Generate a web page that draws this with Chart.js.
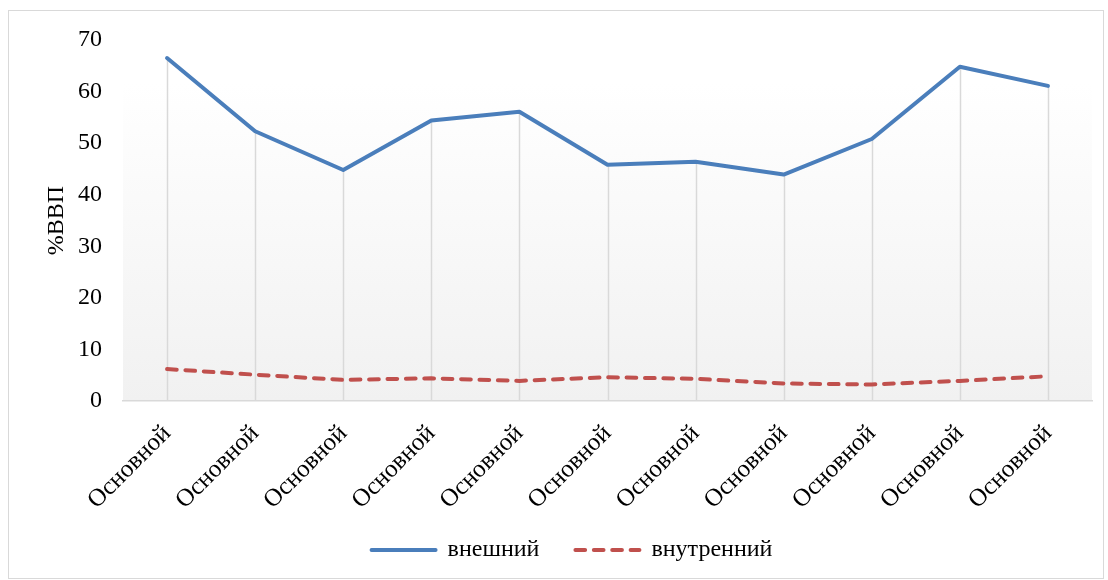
<!DOCTYPE html>
<html>
<head>
<meta charset="utf-8">
<script src="https://cdn.jsdelivr.net/npm/chart.js@4/dist/chart.umd.min.js"></script>
<style>
  html, body { margin: 0; padding: 0; background: #ffffff; }
  #wrap { position: absolute; left: 0; top: 0; width: 1108px; height: 580px; }
</style>
</head>
<body>
<div id="wrap"><canvas id="c" width="1108" height="580"></canvas></div>
<script>
const categories = ["Основной","Основной","Основной","Основной","Основной","Основной","Основной","Основной","Основной","Основной","Основной"];
const externalDebt = [66.5, 52.3, 44.8, 54.4, 56.1, 45.8, 46.4, 43.9, 50.8, 64.8, 61.1];
const internalDebt = [6.2, 5.1, 4.1, 4.4, 3.9, 4.6, 4.3, 3.4, 3.2, 3.9, 4.8];
const seriesNames = ["внешний", "внутренний"];
const yTitle = "%ВВП";
const yMin = 0, yMax = 70, yStep = 10;

const FONT = "'Liberation Serif', 'Times New Roman', serif";

const outerBorder = {
  id: 'outerBorder',
  beforeDraw(chart) {
    const ctx = chart.ctx;
    ctx.save();
    ctx.strokeStyle = '#d9d9d9';
    ctx.lineWidth = 1;
    ctx.strokeRect(8.5, 10.5, 1095, 568);
    ctx.restore();
  }
};

// let the rotated category labels overflow below the axis box without being clipped,
// and nudge the legend slightly to the right
const layoutTweaks = {
  id: 'layoutTweaks',
  afterLayout(chart) {
    chart.scales.x.bottom = chart.height;
    if (chart.legend) {
      chart.legend.left += 6;
      chart.legend.right += 6;
    }
  }
};

const plotGradient = {
  id: 'plotGradient',
  beforeDraw(chart) {
    const {ctx, chartArea: a} = chart;
    ctx.save();
    const g = ctx.createLinearGradient(0, a.top, 0, a.bottom);
    g.addColorStop(0, '#ffffff');
    g.addColorStop(0.12, '#ffffff');
    g.addColorStop(1, '#f1f1f1');
    ctx.fillStyle = g;
    ctx.fillRect(a.left, a.top, a.right - a.left, a.bottom - a.top);
    ctx.restore();
  }
};

const dropLines = {
  id: 'dropLines',
  beforeDatasetsDraw(chart) {
    const {ctx, chartArea: a} = chart;
    const m0 = chart.getDatasetMeta(0).data;
    const m1 = chart.getDatasetMeta(1).data;
    ctx.save();
    ctx.strokeStyle = '#d9d9d9';
    ctx.lineWidth = 1.5;
    for (let i = 0; i < m0.length; i++) {
      const top = Math.min(m0[i].y, m1[i] ? m1[i].y : m0[i].y);
      const x = Math.round(m0[i].x) + 0.5;
      ctx.beginPath();
      ctx.moveTo(x, top);
      ctx.lineTo(x, a.bottom);
      ctx.stroke();
    }
    ctx.restore();
  }
};

new Chart(document.getElementById('c'), {
  type: 'line',
  data: {
    labels: categories,
    datasets: [
      {
        label: seriesNames[0],
        data: externalDebt,
        borderColor: '#4a7ebb',
        backgroundColor: '#4a7ebb',
        borderWidth: 4,
        tension: 0,
        pointRadius: 0,
        pointHoverRadius: 0,
        pointStyle: 'line',
        borderCapStyle: 'round',
        borderJoinStyle: 'round'
      },
      {
        label: seriesNames[1],
        data: internalDebt,
        borderColor: '#c0504d',
        backgroundColor: '#c0504d',
        borderWidth: 4,
        borderDash: [9.7, 8.7],
        borderCapStyle: 'round',
        tension: 0,
        pointRadius: 0,
        pointHoverRadius: 0,
        pointStyle: 'line'
      }
    ]
  },
  options: {
    responsive: false,
    animation: false,
    devicePixelRatio: 1,
    layout: { padding: { left: 40, top: 40, right: 16, bottom: 8 } },
    scales: {
      x: {
        offset: true,
        grid: { display: false, drawTicks: false },
        border: { display: true, color: '#d9d9d9', width: 1.5 },
        ticks: {
          color: '#000',
          font: { family: FONT, size: 25 },
          maxRotation: 45,
          minRotation: 45,
          padding: 18,
          autoSkip: false
        },
        afterFit(scale) { scale.height = 101; }
      },
      y: {
        min: yMin,
        max: yMax,
        grid: { display: false, drawTicks: false },
        border: { display: false },
        ticks: {
          stepSize: yStep,
          color: '#000',
          font: { family: FONT, size: 24 },
          padding: 21
        },
        title: {
          display: true,
          text: yTitle,
          color: '#000',
          font: { family: FONT, size: 24 },
          padding: { top: 2, bottom: 4 }
        },
        afterFit(scale) { scale.width = 83; }
      }
    },
    plugins: {
      legend: {
        position: 'bottom',
        labels: {
          usePointStyle: true,
          pointStyleWidth: 64,
          color: '#000',
          font: { family: FONT, size: 24 },
          padding: 36,
          generateLabels(chart) {
            const items = Chart.defaults.plugins.legend.labels.generateLabels(chart);
            items.forEach((it) => {
              const ds = chart.data.datasets[it.datasetIndex];
              it.lineDash = ds.borderDash || [];
              it.lineCap = 'round';
              it.lineWidth = 4;
              it.strokeStyle = ds.borderColor;
              it.fillStyle = ds.borderColor;
              it.pointStyle = 'line';
            });
            return items;
          }
        }
      },
      tooltip: { enabled: false }
    }
  },
  plugins: [outerBorder, layoutTweaks, plotGradient, dropLines]
});
</script>
</body>
</html>
